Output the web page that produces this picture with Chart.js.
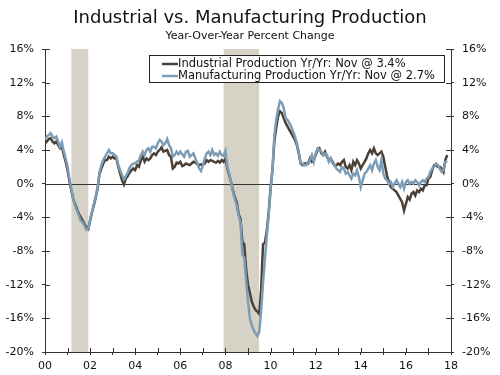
<!DOCTYPE html>
<html>
<head>
<meta charset="utf-8">
<script src="https://cdn.jsdelivr.net/npm/chart.js@4/dist/chart.umd.min.js"></script>
<style>
  html, body { margin: 0; padding: 0; background: #ffffff; }
  #wrap { position: relative; width: 500px; height: 375px; }
</style>
</head>
<body>
<div id="wrap"><canvas id="c" width="500" height="375"></canvas></div>
<script>
// ---- Data (monthly, Jan 2000 - Nov 2017) ----
const startYear = 2000;
const titleText = "Industrial vs. Manufacturing Production";
const subtitleText = "Year-Over-Year Percent Change";
const seriesNames = [
  "Industrial Production Yr/Yr: Nov @ 3.4%",
  "Manufacturing Production Yr/Yr: Nov @ 2.7%"
];
const industrial = [
  4.8, 5.0, 5.3, 5.4, 5.0, 4.8, 5.0, 4.6, 4.2, 4.4, 3.4, 2.6,
  1.6, 0.3, -0.8, -1.8, -2.4, -3.0, -3.6, -4.0, -4.4, -4.8, -5.2, -5.4,
  -4.4, -3.4, -2.6, -1.6, -0.6, 1.2, 1.8, 2.4, 2.8, 2.8, 3.2, 3.0,
  3.2, 3.0, 3.0, 2.0, 1.2, 0.4, -0.1, 0.6, 0.9, 1.3, 1.6, 1.8,
  1.6, 2.2, 2.0, 2.8, 3.2, 2.6, 3.0, 2.8, 3.0, 3.4, 3.6, 3.4,
  3.8, 4.0, 4.3, 3.8, 3.9, 4.0, 3.4, 3.2, 1.8, 2.0, 2.5, 2.4,
  2.6, 2.1, 2.2, 2.4, 2.3, 2.2, 2.4, 2.6, 2.5, 2.3, 2.2, 2.3,
  2.2, 2.4, 2.8, 2.6, 2.8, 2.7, 2.6, 2.5, 2.7, 2.5, 2.8, 2.6,
  3.0, 1.8, 1.0, 0.2, -0.8, -1.6, -2.2, -3.6, -4.2, -6.9, -7.2, -10.2,
  -12.0, -13.0, -14.0, -14.6, -15.0, -15.2, -15.5, -12.5, -7.2, -7.0, -5.6, -3.4,
  -0.5, 1.6, 5.0, 6.6, 8.0, 8.6, 8.4, 7.8, 7.2, 6.8, 6.4, 6.0,
  5.6, 5.2, 4.6, 3.6, 2.4, 2.2, 2.4, 2.4, 2.4, 3.0, 2.6, 2.8,
  3.4, 4.0, 4.2, 3.6, 3.4, 3.8, 3.2, 2.8, 3.0, 2.6, 2.2, 2.2,
  2.4, 2.2, 2.6, 2.8, 2.0, 1.8, 2.2, 1.6, 2.6, 2.2, 2.8, 2.4,
  1.8, 2.2, 2.6, 3.0, 3.6, 4.0, 3.6, 4.2, 3.6, 3.4, 3.6, 3.8,
  3.2, 2.0, 0.9, 0.2, -0.4, -0.6, -0.8, -1.0, -1.4, -1.8, -2.2, -3.2,
  -2.4, -1.6, -1.9, -1.2, -1.0, -1.4, -0.8, -1.0, -0.6, -0.8, -0.2, -0.2,
  0.6, 0.8, 1.6, 2.2, 2.2, 2.0, 2.0, 1.8, 1.4, 2.8, 3.4
];
const manufacturing = [
  5.3, 5.6, 5.8, 6.0, 5.6, 5.4, 5.6, 5.0, 4.4, 4.9, 3.8, 3.0,
  2.0, 0.6, -0.6, -1.8, -2.6, -3.2, -3.8, -4.4, -4.6, -5.0, -5.5, -5.4,
  -4.2, -3.3, -2.4, -1.5, -0.4, 1.4, 2.2, 2.8, 3.2, 3.6, 4.0, 3.6,
  3.6, 3.4, 3.2, 2.2, 1.6, 1.0, 0.5, 0.9, 1.3, 1.9, 2.2, 2.4,
  2.4, 2.6, 2.8, 3.4, 3.8, 3.4, 4.0, 4.2, 3.8, 4.4, 4.4, 4.2,
  4.8, 5.2, 5.0, 4.6, 4.8, 5.3, 4.6, 4.2, 3.2, 3.4, 3.8, 3.5,
  3.8, 3.5, 3.2, 3.8, 3.9, 3.2, 3.4, 3.6, 3.0, 2.4, 1.8, 1.5,
  2.2, 3.0, 3.6, 3.8, 3.4, 4.0, 3.4, 3.6, 3.3, 3.8, 3.4, 3.3,
  3.9, 2.0, 1.2, 0.2, -0.9, -1.8, -2.6, -3.8, -4.6, -8.4, -8.8, -11.5,
  -14.0, -16.0, -16.8, -17.4, -17.8, -18.1, -17.6, -15.0, -11.8, -9.0, -6.2, -3.8,
  -0.8, 1.6, 5.6, 7.6, 8.8, 9.8, 9.6, 9.0, 7.8, 7.6, 7.2, 6.8,
  6.2, 5.6, 4.8, 3.8, 2.4, 2.4, 2.2, 2.2, 2.6, 2.8, 3.4, 2.6,
  3.6, 4.2, 4.0, 3.8, 3.4, 3.6, 3.4, 2.6, 3.0, 2.4, 2.2, 1.8,
  1.6, 1.4, 2.0, 1.8, 1.2, 1.4, 1.0, 0.6, 1.2, 1.0, 1.6, 0.8,
  -0.4, 0.4, 1.2, 1.4, 1.8, 2.2, 1.6, 2.4, 2.8, 2.0, 1.6, 2.8,
  1.2, 0.6, 0.4, 0.0, 0.2, -0.4, 0.0, 0.4, 0.0, -0.4, 0.2, -0.6,
  0.2, 0.4, 0.0, 0.2, 0.0, 0.4, 0.2, -0.2, 0.2, 0.4, 0.2, 0.6,
  0.8, 1.4, 1.8, 2.0, 2.4, 2.2, 1.8, 1.4, 1.6, 2.6, 2.7
];
// Recession periods (decimal years)
const recessionStarts = [2001.17, 2007.92];
const recessionEnds   = [2001.92, 2009.49];
// Axis
const xMin = 2000, xMax = 2018;
const yMin = -20, yMax = 16, yStep = 4;
const yearLabels = ["00","02","04","06","08","10","12","14","16","18"];

// ---- Styles ----
const FONT = "'DejaVu Sans', sans-serif";
const colIP = "#4b4036";
const colMfg = "#7c9db5";
const colBand = "#d7d2c6";
const colAxis = "#333333";

function toPoints(arr) {
  return arr.map((v, i) => ({ x: startYear + i / 12, y: v }));
}

const bandsPlugin = {
  id: "bands",
  beforeDatasetsDraw(chart) {
    const { ctx, chartArea, scales } = chart;
    ctx.save();
    ctx.fillStyle = colBand;
    for (let i = 0; i < recessionStarts.length; i++) {
      const x0 = scales.x.getPixelForValue(recessionStarts[i]);
      const x1 = scales.x.getPixelForValue(recessionEnds[i]);
      ctx.fillRect(x0, chartArea.top, x1 - x0, chartArea.bottom - chartArea.top);
    }
    // zero line
    const y0 = Math.round(scales.y.getPixelForValue(0)) + 0.5;
    ctx.strokeStyle = colAxis;
    ctx.lineWidth = 1;
    ctx.beginPath();
    ctx.moveTo(chartArea.left, y0);
    ctx.lineTo(chartArea.right, y0);
    ctx.stroke();
    ctx.restore();
  }
};

const innerTicksPlugin = {
  id: "innerTicks",
  afterDraw(chart) {
    const { ctx, chartArea, scales } = chart;
    ctx.save();
    ctx.strokeStyle = colAxis;
    ctx.lineWidth = 1;
    ctx.beginPath();
    scales.x.ticks.forEach(t => {
      const px = Math.round(scales.x.getPixelForValue(t.value)) + 0.5;
      ctx.moveTo(px, chartArea.bottom);
      ctx.lineTo(px, chartArea.bottom - 4);
    });
    scales.y.ticks.forEach(t => {
      const py = Math.round(scales.y.getPixelForValue(t.value)) + 0.5;
      ctx.moveTo(chartArea.left, py);
      ctx.lineTo(chartArea.left + 5, py);
      ctx.moveTo(chartArea.right, py);
      ctx.lineTo(chartArea.right - 5, py);
    });
    ctx.stroke();

    // legend box
    const lx = 149, ly = 55.5, lw = 295, lh = 27;
    ctx.fillStyle = "#ffffff";
    ctx.fillRect(lx, ly, lw, lh);
    ctx.strokeStyle = "#222222";
    ctx.lineWidth = 1;
    ctx.strokeRect(lx + 0.5, ly, lw, lh);
    ctx.font = "11.5px " + FONT;
    ctx.textBaseline = "middle";
    ctx.textAlign = "left";
    const cols = [colIP, colMfg];
    [64, 76].forEach((yy, i) => {
      ctx.strokeStyle = cols[i];
      ctx.lineWidth = 2.5;
      ctx.beginPath();
      ctx.moveTo(162, yy);
      ctx.lineTo(178, yy);
      ctx.stroke();
      ctx.fillStyle = "#111111";
      ctx.fillText(seriesNames[i], 178, yy);
    });
    ctx.restore();
  }
};

new Chart(document.getElementById("c"), {
  type: "line",
  data: {
    datasets: [
      { label: seriesNames[0], data: toPoints(industrial), borderColor: colIP, borderWidth: 2.5, pointRadius: 0, tension: 0, order: 1 },
      { label: seriesNames[1], data: toPoints(manufacturing), borderColor: colMfg, borderWidth: 2.5, pointRadius: 0, tension: 0, order: 0 }
    ]
  },
  options: {
    responsive: false,
    animation: false,
    layout: { padding: 0 },
    plugins: {
      legend: { display: false },
      tooltip: { enabled: false },
      title: {
        display: true, text: titleText, color: "#111111",
        font: { family: FONT, size: 18, weight: "normal", lineHeight: 1.2 },
        padding: { top: 8, bottom: 0 }
      },
      subtitle: {
        display: true, text: subtitleText, color: "#111111",
        font: { family: FONT, size: 11, weight: "normal", lineHeight: 1.2 },
        padding: { top: 0, bottom: 6.2 }
      }
    },
    scales: {
      x: {
        type: "linear", min: xMin, max: xMax,
        afterFit(s) { s.height = 23; },
        border: { display: true, color: colAxis, width: 1 },
        grid: { drawOnChartArea: false, drawTicks: true, tickLength: 3, color: colAxis },
        ticks: {
          stepSize: 1, autoSkip: false, maxRotation: 0, padding: 5,
          color: "#111111", font: { family: FONT, size: 11 },
          callback(v) {
            const k = v - xMin;
            return (k % 2 === 0) ? yearLabels[k / 2] : "";
          }
        }
      },
      y: {
        position: "left", min: yMin, max: yMax,
        afterFit(s) { s.width = 45; },
        border: { display: true, color: colAxis, width: 1 },
        grid: { drawOnChartArea: false, drawTicks: true, tickLength: 3, color: colAxis },
        ticks: { stepSize: yStep, padding: 8, color: "#111111", font: { family: FONT, size: 11 }, callback: v => v + "%" }
      },
      y2: {
        position: "right", min: yMin, max: yMax,
        afterFit(s) { s.width = 49; },
        border: { display: true, color: colAxis, width: 1 },
        grid: { drawOnChartArea: false, drawTicks: true, tickLength: 3, color: colAxis },
        ticks: { stepSize: yStep, padding: 8, color: "#111111", font: { family: FONT, size: 11 }, callback: v => v + "%" }
      }
    }
  },
  plugins: [bandsPlugin, innerTicksPlugin]
});
</script>
</body>
</html>
